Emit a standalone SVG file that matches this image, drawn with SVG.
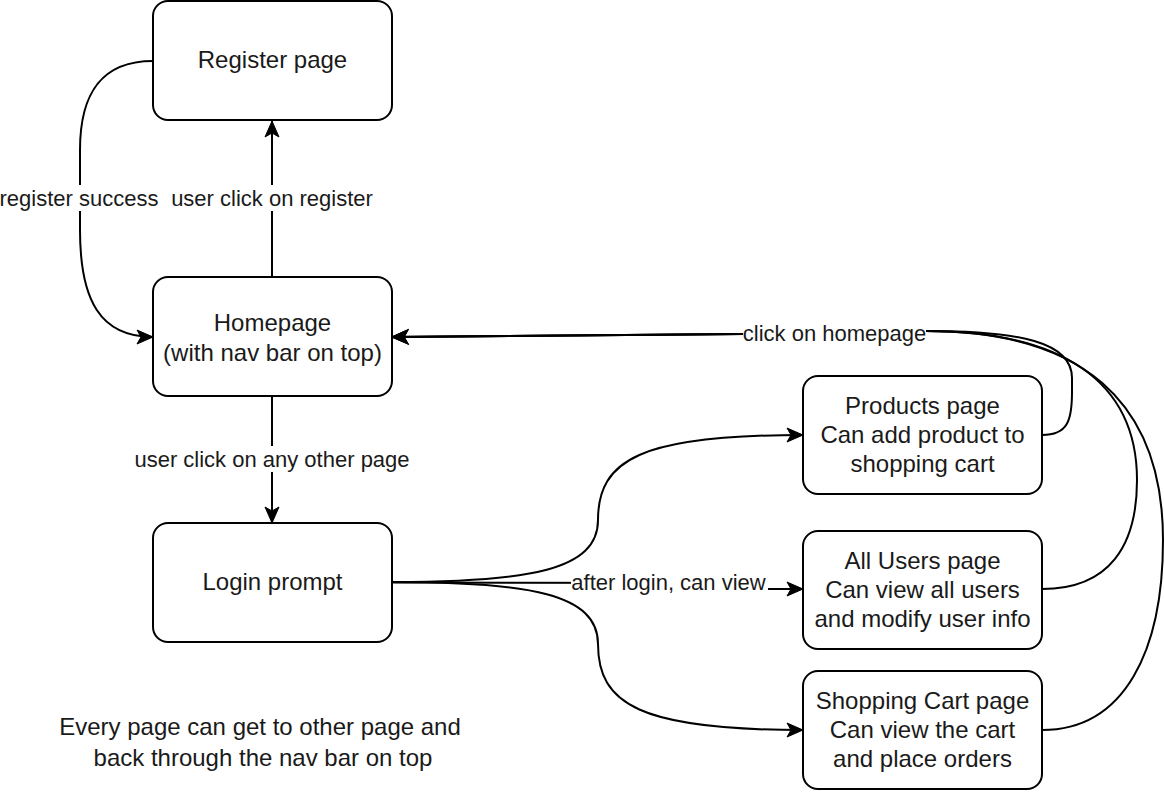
<svg xmlns="http://www.w3.org/2000/svg" width="1164" height="794" viewBox="0 0 1164 794">
<style>
.node{fill:#fff;stroke:#000;stroke-width:2}
.nt{font-family:"Liberation Sans",Arial,sans-serif;font-size:24px;fill:#1a1a1a;text-anchor:middle}
.lt{font-family:"Liberation Sans",Arial,sans-serif;font-size:22px;fill:#1a1a1a;text-anchor:middle}
.edge{fill:none;stroke:#000;stroke-width:2;marker-end:url(#arr)}
.lbg{fill:#fff}
</style>
<defs>
<marker id="arr" markerUnits="userSpaceOnUse" markerWidth="20" markerHeight="20" viewBox="-18 -9 20 18" refX="0" refY="0" orient="auto">
<path d="M0,0 L-16,-7 L-12,0 L-16,7 Z" fill="#000" stroke="#000" stroke-width="1"/>
</marker>
</defs>
<rect width="1164" height="794" fill="#fff"/>
<g id="connectors">
<path class="edge" d="M272,277 L272,121"/>
<path class="edge" d="M153,61 C100,61 80,95 80,150 L80,230 C80,300 100,337 153,337"/>
<path class="edge" d="M272,396 L272,523"/>
<path class="edge" d="M392,582 C530,582 598,570 598,520 C598,460 640,435 803,435"/>
<path class="edge" d="M392,582.5 L766,583 L766,589 L803,589"/>
<path class="edge" d="M392,582 C530,582 598,594 598,644 C598,704 640,730 803,730"/>
<path class="edge" d="M1042,435 C1068,435 1072,420 1072,392 L1072,378 C1072,342 1020,331 926,331 L743,334 L392,337"/>
<path class="edge" d="M1042,589 C1110,589 1137,545 1137,480 C1137,380 1060,331 926,331 L743,334 L392,337"/>
<path class="edge" d="M1042,730 C1125,730 1163,650 1163,540 C1163,400 1080,331 926,331 L743,334 L392,337"/>
<rect class="lbg" x="0" y="185" width="159" height="26"/>
<text class="lt" x="79" y="206">register success</text>
<rect class="lbg" x="171" y="185" width="202" height="26"/>
<text class="lt" x="272" y="206">user click on register</text>
<rect class="lbg" x="134" y="446" width="276" height="26"/>
<text class="lt" x="272" y="467">user click on any other page</text>
<rect class="lbg" x="571" y="570" width="197" height="26"/>
<text class="lt" x="668.5" y="590">after login, can view</text>
<rect class="lbg" x="743" y="320" width="183" height="26"/>
<text class="lt" x="834.5" y="341">click on homepage</text>
</g>
<g id="register">
<rect class="node" x="153" y="1" width="239" height="119" rx="15"/>
<text class="nt" x="272.5" y="68">Register page</text>
</g>
<g id="homepage">
<rect class="node" x="153" y="277" width="239" height="119" rx="15"/>
<text class="nt" x="272.5" y="331">Homepage</text>
<text class="nt" x="272.5" y="361">(with nav bar on top)</text>
</g>
<g id="login">
<rect class="node" x="153" y="523" width="239" height="119" rx="15"/>
<text class="nt" x="272.5" y="590">Login prompt</text>
</g>
<g id="products">
<rect class="node" x="803" y="376" width="239" height="118" rx="15"/>
<text class="nt" x="922.5" y="414">Products page</text>
<text class="nt" x="922.5" y="443">Can add product to</text>
<text class="nt" x="922.5" y="472">shopping cart</text>
</g>
<g id="allusers">
<rect class="node" x="803" y="531" width="239" height="118" rx="15"/>
<text class="nt" x="922.5" y="569">All Users page</text>
<text class="nt" x="922.5" y="598">Can view all users</text>
<text class="nt" x="922.5" y="627">and modify user info</text>
</g>
<g id="cart">
<rect class="node" x="803" y="671" width="239" height="118" rx="15"/>
<text class="nt" x="922.5" y="709">Shopping Cart page</text>
<text class="nt" x="922.5" y="738">Can view the cart</text>
<text class="nt" x="922.5" y="767">and place orders</text>
</g>
<g id="note">
<text class="nt" x="260" y="735">Every page can get to other page and</text>
<text class="nt" x="263" y="766">back through the nav bar on top</text>
</g>
</svg>
